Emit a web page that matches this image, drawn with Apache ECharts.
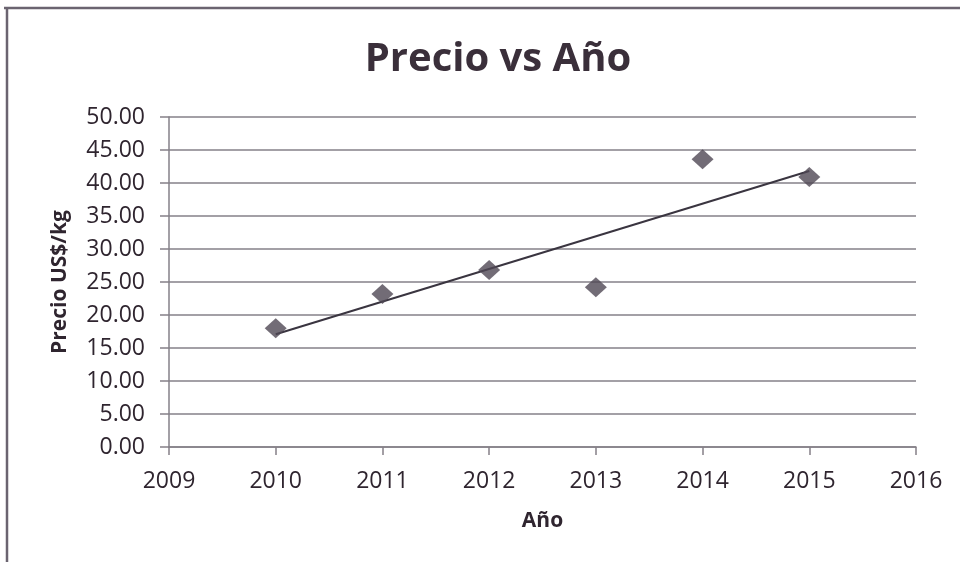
<!DOCTYPE html>
<html>
<head>
<meta charset="utf-8">
<title>Precio vs Año</title>
<script src="https://cdn.jsdelivr.net/npm/echarts@6/dist/echarts.min.js"></script>
<style>
  html, body { margin: 0; padding: 0; background: #ffffff; }
  #chart { width: 960px; height: 562px; }
</style>
</head>
<body>
<div id="chart"></div>
<script>
// Annual price per kilogram
const years = [2010, 2011, 2012, 2013, 2014, 2015];
const prices = [18.0, 23.2, 26.8, 24.2, 43.6, 40.9];

// Axis ranges
const xMin = 2009, xMax = 2016, xStep = 1;
const yMin = 0, yMax = 50, yStep = 5;

// Linear least-squares trend through the observed prices
function linearFit(xs, ys) {
  const n = xs.length;
  const mx = xs.reduce((a, b) => a + b, 0) / n;
  const my = ys.reduce((a, b) => a + b, 0) / n;
  let sxy = 0, sxx = 0;
  for (let i = 0; i < n; i++) {
    sxy += (xs[i] - mx) * (ys[i] - my);
    sxx += (xs[i] - mx) * (xs[i] - mx);
  }
  const slope = sxy / sxx;
  return x => my + slope * (x - mx);
}
const trend = linearFit(years, prices);
const trendPoints = [years[0], years[years.length - 1]].map(x => [x, trend(x)]);

const textColor = '#2f252f';
const lineGray = '#858088';
const font = '"Open Sans", "Noto Sans", sans-serif';

const chart = echarts.init(document.getElementById('chart'), null, { renderer: 'canvas' });
chart.setOption({
  animation: false,
  backgroundColor: '#ffffff',
  title: {
    text: 'Precio vs Año',
    left: 493,
    top: 35,
    textAlign: 'center',
    textStyle: { fontFamily: font, fontSize: 40, fontWeight: 'bold', color: '#3a2f3a' }
  },
  graphic: [
    { type: 'line', shape: { x1: 4, y1: 8, x2: 960, y2: 8 }, style: { stroke: '#6b6470', lineWidth: 2.5 } },
    { type: 'line', shape: { x1: 7, y1: 8, x2: 7, y2: 562 }, style: { stroke: '#6b6470', lineWidth: 2.5 } }
  ],
  grid: { left: 169, right: 44, top: 117, bottom: 115, containLabel: false },
  xAxis: {
    type: 'value',
    min: xMin, max: xMax, interval: xStep,
    name: 'Año',
    nameLocation: 'middle',
    nameGap: 64,
    nameTextStyle: { fontFamily: font, fontSize: 21, fontWeight: 'bold', color: textColor },
    axisLine: { show: true, onZero: false, lineStyle: { color: lineGray, width: 1.5 } },
    axisTick: { show: true, inside: false, length: 8, lineStyle: { color: lineGray, width: 1.5 } },
    axisLabel: { fontFamily: font, fontSize: 23, color: textColor, margin: 23, formatter: v => String(v) },
    splitLine: { show: false }
  },
  yAxis: {
    type: 'value',
    min: yMin, max: yMax, interval: yStep,
    name: 'Precio US$/kg',
    nameLocation: 'middle',
    nameGap: 98,
    nameRotate: 90,
    nameTextStyle: { fontFamily: font, fontSize: 21, fontWeight: 'bold', color: textColor },
    axisLine: { show: true, lineStyle: { color: lineGray, width: 1.5 } },
    axisTick: { show: true, inside: false, length: 9, lineStyle: { color: lineGray, width: 1.5 } },
    axisLabel: { fontFamily: font, fontSize: 23, color: textColor, margin: 24, formatter: v => v.toFixed(2) },
    splitLine: { show: true, lineStyle: { color: lineGray, width: 1.5 } }
  },
  series: [
    {
      name: 'Tendencia',
      type: 'line',
      data: trendPoints,
      symbol: 'none',
      lineStyle: { color: '#3a3540', width: 2 },
      z: 2
    },
    {
      name: 'Precio',
      type: 'scatter',
      data: years.map((y, i) => [y, prices[i]]),
      symbol: 'diamond',
      symbolSize: [22, 20],
      itemStyle: { color: '#4f4754' },
      z: 3
    }
  ]
});
</script>
</body>
</html>
